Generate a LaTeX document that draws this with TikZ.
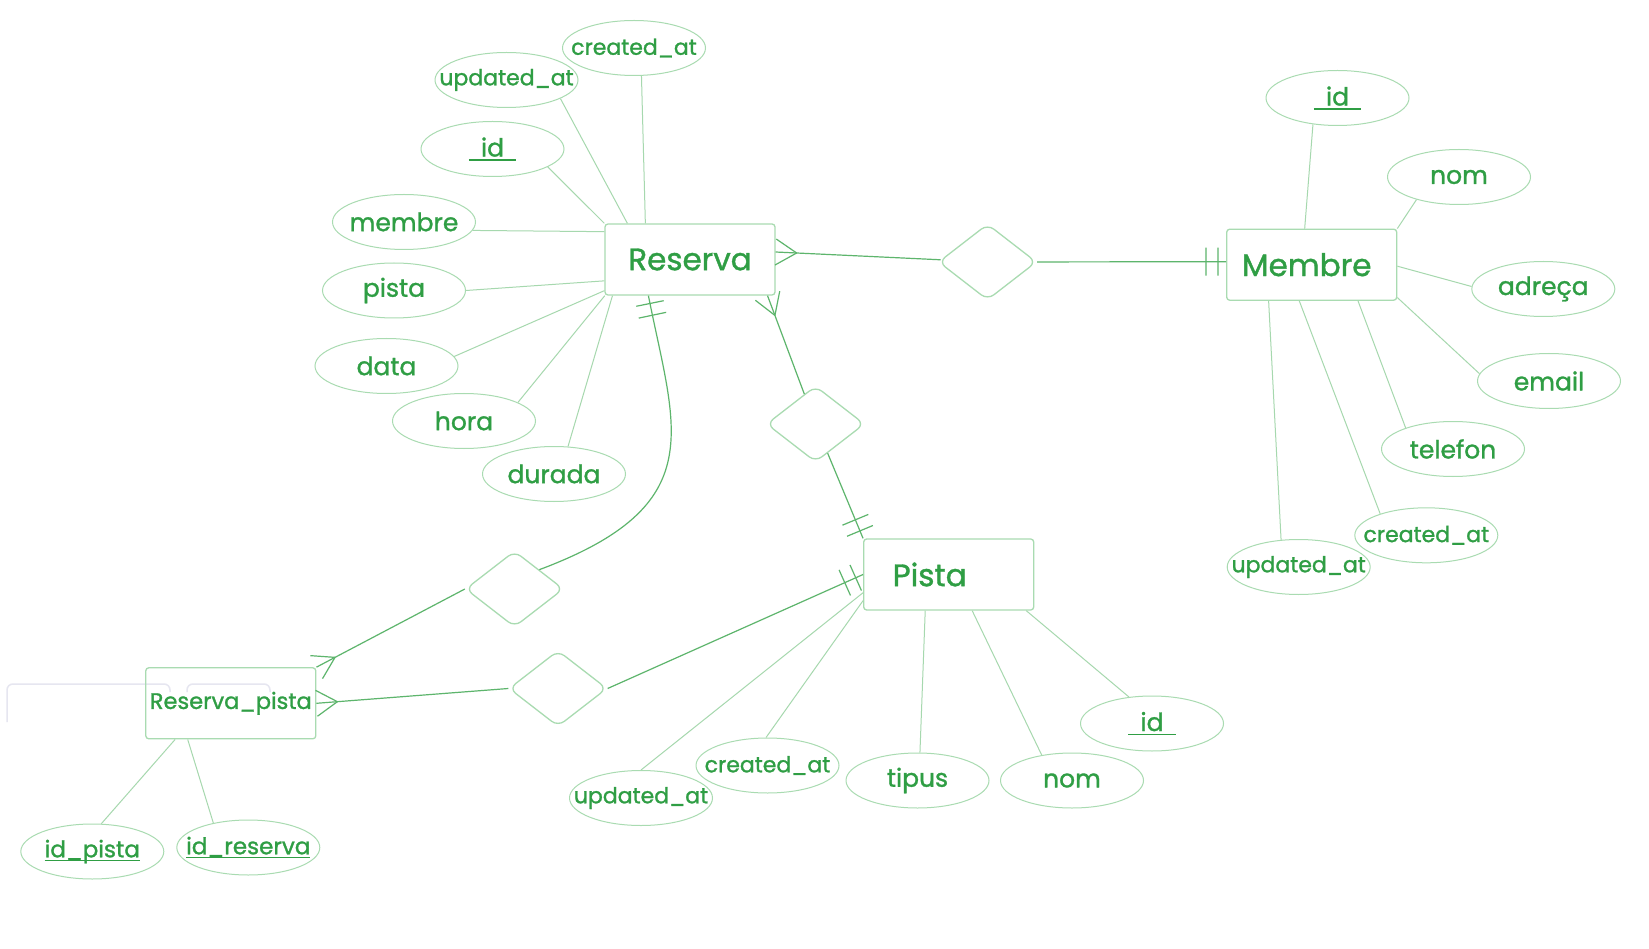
\documentclass[tikz,border=0pt]{standalone}
\usepackage{fontspec}
\setmainfont{Poppins}[FakeBold=1.2, AutoFakeBold=1.2]
\usetikzlibrary{shapes.geometric, decorations.markings}

\definecolor{txtgreen}{HTML}{2F9E44}
\definecolor{boxgreen}{HTML}{A9DBB1}
\definecolor{relgreen}{HTML}{5DB56C}
\definecolor{attrgreen}{HTML}{A6D8AE}
\definecolor{ghostgrey}{HTML}{E6E6F0}

% underlined key attribute
\newcommand{\keyline}[1]{\setbox0=\hbox{#1}\rlap{\rule[-4pt]{\wd0}{1.5pt}}\box0}

\tikzset{
  notext/.style={execute at begin node={\hbox to 0pt\bgroup\hss}, execute at end node={\hss\egroup}},
  entity/.style={rectangle, draw=boxgreen, line width=1.3pt, rounded corners=3pt, minimum width=170pt, minimum height=71pt, inner sep=0pt, text=txtgreen, font=\fontsize{31}{36}\selectfont\bfseries, notext},
  attr/.style={ellipse, draw=boxgreen, line width=1pt, minimum width=143pt, minimum height=55pt, inner sep=0pt, text=txtgreen, font=\fontsize{25}{30}\selectfont\bfseries, notext},
  smallattr/.style={attr, font=\fontsize{22}{26}\selectfont\bfseries},
  rel/.style={diamond, draw=boxgreen, line width=1.3pt, rounded corners=8pt, minimum width=98pt, minimum height=76pt, inner sep=0pt},
  relline/.style={draw=relgreen, line width=1.2pt},
  attrline/.style={draw=attrgreen, line width=1pt},
  one/.style={postaction={decorate}, decoration={markings,
      mark=at position -8pt with {\draw[relline] (0,-14pt) -- (0,14pt);},
      mark=at position -20pt with {\draw[relline] (0,-14pt) -- (0,14pt);}}},
  crow/.style={postaction={decorate}, decoration={markings,
      mark=at position -21pt with {\draw[relline] (0,0) -- (21pt,13pt) (0,0) -- (21pt,-13pt);}}},
}

\begin{document}
\begin{tikzpicture}[x=1pt, y=-1pt]
  \useasboundingbox (0,0) rectangle (1649,949);
  \fill[white] (0,0) rectangle (1649,949);

  % leftover frames
  \draw[ghostgrey, line width=1.5pt, rounded corners=6pt] (7,722) -- (7,684) -- (170,684) -- (170,692);
  \draw[ghostgrey, line width=1.5pt, rounded corners=6pt] (187,692) -- (187,684) -- (270,684) -- (270,692);

  % entities
  \node[entity] (reserva) at (690,259.5) {Reserva};
  \node[entity] (membre) at (1311.7,264.7) {\hspace*{-10pt}Membre};
  \node[entity] (pista) at (948.7,574.5) {\hspace*{-38pt}Pista};
  \node[entity, font=\fontsize{22.5}{26}\selectfont\bfseries] (respista) at (230.8,703.3) {Reserva\_pista};

  % relationships
  \node[rel] (rel1) at (987.5,262) {};
  \node[rel] (rel2) at (815.5,424) {};
  \node[rel] (rel3) at (514.5,589) {};
  \node[rel] (rel4) at (558,688.5) {};

  % Reserva attributes
  \node[smallattr] (rcreated) at (634,48) {created\_at};
  \node[smallattr] (rupdated) at (506.5,80) {updated\_at};
  \node[attr] (rid) at (492.5,149) {\keyline{\hspace{12pt}id\hspace{12pt}}};
  \node[attr] (rmembre) at (404,222) {membre};
  \node[attr] (rpista) at (394,290.5) {pista};
  \node[attr] (rdata) at (386.5,366) {data};
  \node[attr] (rhora) at (464,421) {hora};
  \node[attr] (rdurada) at (554,474) {durada};

  % Membre attributes
  \node[attr] (mid) at (1337.5,98) {\keyline{\hspace{12pt}id\hspace{12pt}}};
  \node[attr] (mnom) at (1459,177) {nom};
  \node[attr] (madreca) at (1543.3,289) {adreça};
  \node[attr] (memail) at (1549,381) {email};
  \node[attr] (mtelefon) at (1453,449) {telefon};
  \node[smallattr] (mcreated) at (1426.3,535.3) {created\_at};
  \node[smallattr] (mupdated) at (1298.7,567) {updated\_at};

  % Pista attributes
  \node[smallattr] (pupdated) at (641,798) {updated\_at};
  \node[smallattr] (pcreated) at (767.5,765.5) {created\_at};
  \node[attr] (ptipus) at (917.5,780.5) {tipus};
  \node[attr] (pnom) at (1072,780.5) {nom};
  \node[attr] (pid) at (1152,723.5) {\keyline{\hspace{12pt}id\hspace{12pt}}};

  % Reserva_pista attributes
  \node[smallattr, font=\fontsize{23}{27}\selectfont\bfseries] (rpidpista) at (92.3,851.5) {\keyline{id\_pista}};
  \node[smallattr, font=\fontsize{23}{27}\selectfont\bfseries] (rpidreserva) at (248.3,847.5) {\keyline{id\_reserva}};

  % attribute lines
  \draw[attrline] (rcreated.-75) -- (reserva.141);
  \draw[attrline] (rupdated.-19) -- (reserva.150);
  \draw[attrline] (rid.-18) -- (reserva.north west);
  \draw[attrline] (rmembre.-7) -- (reserva.162);
  \draw[attrline] (rpista.0) -- (reserva.-166);
  \draw[attrline] (rdata.8) -- (reserva.-160);
  \draw[attrline] (rhora.19) -- (reserva.-157);
  \draw[attrline] (rdurada.63) -- (reserva.-155);

  \draw[attrline] (mid.-133) -- (membre.101);
  \draw[attrline] (mnom.-152) -- (membre.north east);
  \draw[attrline] (madreca.178) -- (membre.-1);
  \draw[attrline] (memail.174) -- (membre.-21);
  \draw[attrline] (mtelefon.156) -- (membre.-38);
  \draw[attrline] (mcreated.155) -- (membre.-109);
  \draw[attrline] (mupdated.123) -- (membre.-140);

  \draw[attrline] (pupdated.90) -- (pista.-168);
  \draw[attrline] (pcreated.93) -- (pista.-163);
  \draw[attrline] (ptipus.85) -- (pista.-123);
  \draw[attrline] (pnom.140) -- (pista.-57);
  \draw[attrline] (pid.131) -- (pista.-25);

  \draw[attrline] (rpidpista.72) -- (respista.-147);
  \draw[attrline] (rpidreserva.145) -- (respista.-140);

  % relationship lines
  \draw[relline, crow] (rel1) -- (reserva.5);
  \draw[relline, one] (rel1) -- (membre.178);
  \draw[relline, crow] (rel2) -- (reserva.-25);
  \draw[relline, one] (rel2) -- (pista.north west);
  \draw[relline, one] (rel3.north east) .. controls (712,505) and (675,430) .. (reserva.-139);
  \draw[relline, crow] (rel3.west) -- (respista.north east);
  \draw[relline, one] (rel4.east) -- (pista.west);
  \draw[relline, crow] (rel4.west) -- (respista.east);
\end{tikzpicture}
\end{document}
